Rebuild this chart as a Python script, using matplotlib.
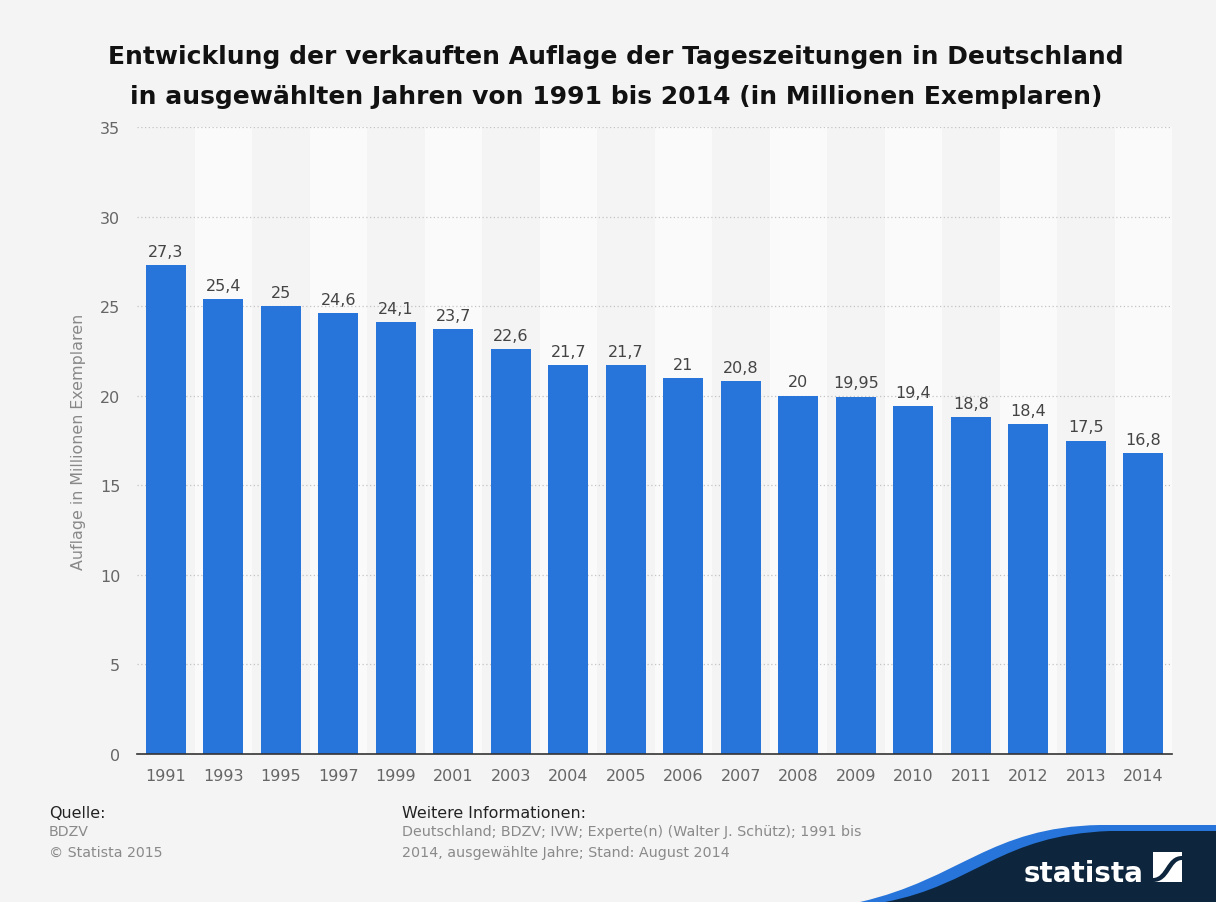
import matplotlib
matplotlib.use("Agg")
import matplotlib.pyplot as plt
from matplotlib.path import Path
from matplotlib.patches import PathPatch, Rectangle

plt.rcParams["font.family"] = ["DejaVu Sans"]

years = ["1991", "1993", "1995", "1997", "1999", "2001", "2003", "2004", "2005",
         "2006", "2007", "2008", "2009", "2010", "2011", "2012", "2013", "2014"]
values = [27.3, 25.4, 25.0, 24.6, 24.1, 23.7, 22.6, 21.7, 21.7,
          21.0, 20.8, 20.0, 19.95, 19.4, 18.8, 18.4, 17.5, 16.8]
value_labels = ["27,3", "25,4", "25", "24,6", "24,1", "23,7", "22,6", "21,7", "21,7",
                "21", "20,8", "20", "19,95", "19,4", "18,8", "18,4", "17,5", "16,8"]
yticks = [0, 5, 10, 15, 20, 25, 30, 35]

W, H = 1216, 903
bg = "#f4f4f4"
fig = plt.figure(figsize=(W / 100, H / 100), dpi=100, facecolor=bg)
ax = fig.add_axes([137 / W, 1 - 755 / H, (1172 - 137) / W, (755 - 128) / H])
ax.set_facecolor(bg)

n = len(years)
x = list(range(n))
for i in x:
    if i % 2 == 1:
        ax.axvspan(i - 0.5, i + 0.5, color="#fafafa", zorder=0, lw=0)

for t in yticks[1:]:
    ax.axhline(t, color="#c4c4c4", lw=0.9, ls=(0, (1, 2)), zorder=1)

ax.bar(x, values, width=0.7, color="#2775db", zorder=3)
for xi, v, lab in zip(x, values, value_labels):
    ax.text(xi, v + 0.35, lab, ha="center", va="bottom", fontsize=11.5, color="#444444", zorder=4)

ax.set_xlim(-0.5, n - 0.5)
ax.set_ylim(0, 35)
ax.set_yticks(yticks)
ax.set_xticks(x)
ax.set_xticklabels(years)
ax.tick_params(axis="both", length=0, labelsize=11.5, labelcolor="#666666")
ax.tick_params(axis="y", pad=12)
ax.tick_params(axis="x", pad=10)
for s in ["top", "right", "left"]:
    ax.spines[s].set_visible(False)
ax.spines["bottom"].set_color("#333333")
ax.spines["bottom"].set_linewidth(1.2)
ax.spines["bottom"].set_zorder(5)
ax.set_ylabel("Auflage in Millionen Exemplaren", fontsize=11.4, color="#888888", labelpad=10)

fig.text(616 / W, 1 - 57 / H, "Entwicklung der verkauften Auflage der Tageszeitungen in Deutschland",
         ha="center", va="center", fontsize=18, fontweight="bold", color="#111111")
fig.text(616 / W, 1 - 97 / H, "in ausgewählten Jahren von 1991 bis 2014 (in Millionen Exemplaren)",
         ha="center", va="center", fontsize=18, fontweight="bold", color="#111111")

# footer
fig.text(49 / W, 1 - 814 / H, "Quelle:", fontsize=11.4, color="#222222", va="center")
fig.text(49 / W, 1 - 832 / H, "BDZV", fontsize=10.2, color="#8a8a8a", va="center")
fig.text(49 / W, 1 - 853 / H, "© Statista 2015", fontsize=10.2, color="#8a8a8a", va="center")
fig.text(402 / W, 1 - 814 / H, "Weitere Informationen:", fontsize=11.4, color="#222222", va="center")
fig.text(402 / W, 1 - 832 / H, "Deutschland; BDZV; IVW; Experte(n) (Walter J. Schütz); 1991 bis",
         fontsize=10.3, color="#8a8a8a", va="center")
fig.text(402 / W, 1 - 853 / H, "2014, ausgewählte Jahre; Stand: August 2014",
         fontsize=10.3, color="#8a8a8a", va="center")

# logo
def fp(px, py):
    return (px / W, 1 - py / H)

blue = Path([fp(860, 903), fp(960, 880), fp(990, 828), fp(1100, 826), fp(1216, 826), fp(1216, 903),
             fp(860, 903)],
            [Path.MOVETO, Path.CURVE4, Path.CURVE4, Path.CURVE4, Path.LINETO, Path.LINETO, Path.CLOSEPOLY])
fig.patches.append(PathPatch(blue, transform=fig.transFigure, facecolor="#2775db", lw=0))
dark = Path([fp(885, 903), fp(975, 886), fp(1000, 836), fp(1110, 832), fp(1216, 832), fp(1216, 903),
             fp(885, 903)],
            [Path.MOVETO, Path.CURVE4, Path.CURVE4, Path.CURVE4, Path.LINETO, Path.LINETO, Path.CLOSEPOLY])
fig.patches.append(PathPatch(dark, transform=fig.transFigure, facecolor="#0d263d", lw=0))
fig.text(1084 / W, 1 - 882 / H, "statista", fontsize=20, fontweight="bold", color="white",
         ha="center", va="baseline")
fig.patches.append(Rectangle(fp(1153, 883), 29 / W, 30 / H, transform=fig.transFigure,
                             facecolor="white", lw=0))
swoosh = Path([fp(1153, 879), fp(1166, 879), fp(1166, 857), fp(1182, 857),
               fp(1182, 861), fp(1170, 861), fp(1170, 883), fp(1153, 883), fp(1153, 879)],
              [Path.MOVETO, Path.CURVE4, Path.CURVE4, Path.CURVE4,
               Path.LINETO, Path.CURVE4, Path.CURVE4, Path.CURVE4, Path.CLOSEPOLY])
fig.patches.append(PathPatch(swoosh, transform=fig.transFigure, facecolor="#0d263d", lw=0))

fig.savefig("out.png", dpi=100, facecolor=bg)
